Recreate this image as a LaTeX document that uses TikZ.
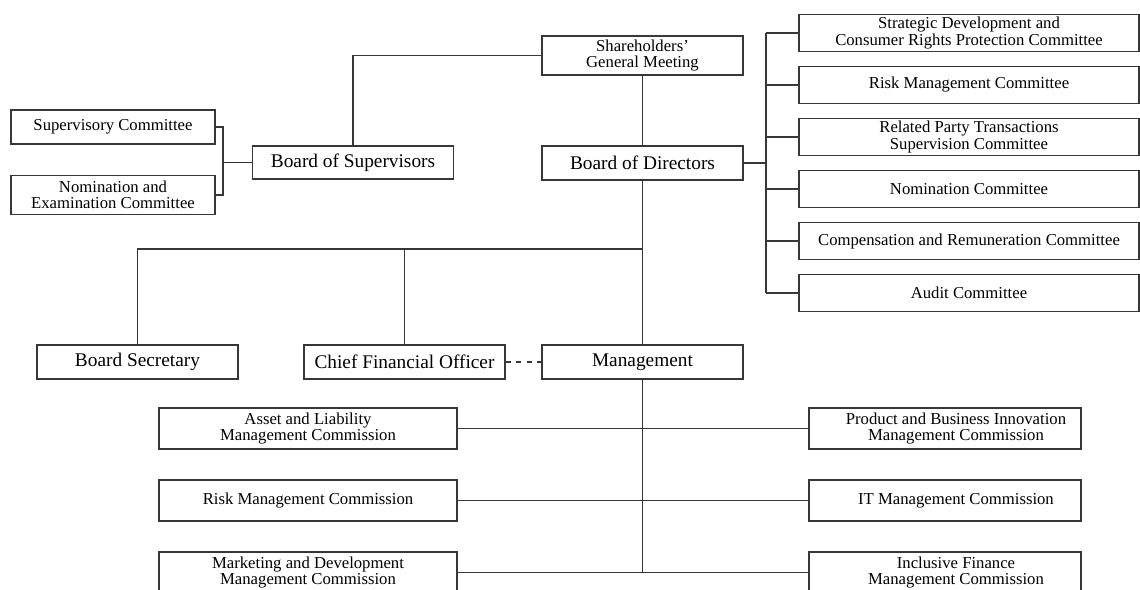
\documentclass[tikz,border=0pt]{standalone}
\usepackage{fontspec}
\setmainfont{Liberation Serif}
\usepackage{tikz}
\usetikzlibrary{positioning, calc}
\definecolor{linegray}{RGB}{55,55,55}

\tikzset{
  box/.style={draw=linegray, line width=0.7pt, inner sep=0pt, align=center, minimum width=#1*0.02cm,
    font=\fontsize{9.5}{9.3}\selectfont},
  box/.default=201,
  bigbox/.style={box=201, font=\fontsize{11}{12}\selectfont},
  link/.style={draw=linegray, line width=0.6pt}
}

\begin{document}
\begin{tikzpicture}[x=0.02cm, y=-0.02cm]
    \useasboundingbox (0,0) rectangle (1140,590);

    \node[box, minimum height=39*0.02cm] (sgm) at (642.5,55.5) {Shareholders'\\General Meeting};
    \node[bigbox, minimum height=34*0.02cm] (bod) at (642.5,163) {Board of Directors};
    \node[bigbox, minimum height=33*0.02cm] (bos) at (353,162.5) {Board of Supervisors};

    \node[box=204, minimum height=34*0.02cm] (supc) at (113,127) {Supervisory Committee};
    \node[box=204, minimum height=39*0.02cm] (nomexam) at (113,195) {Nomination and\\Examination Committee};

    \node[box=340, minimum height=37.5*0.02cm] (rc1) at (969,33) {Strategic Development and\\Consumer Rights Protection Committee};
    \node[box=340, minimum height=37.5*0.02cm] (rc2) at (969,85) {Risk Management Committee};
    \node[box=340, minimum height=37.5*0.02cm] (rc3) at (969,137) {Related Party Transactions\\Supervision Committee};
    \node[box=340, minimum height=37.5*0.02cm] (rc4) at (969,189) {Nomination Committee};
    \node[box=340, minimum height=37.5*0.02cm] (rc5) at (969,241) {Compensation and Remuneration Committee};
    \node[box=340, minimum height=37.5*0.02cm] (rc6) at (969,293) {Audit Committee};

    \node[bigbox, minimum height=34*0.02cm] (bsec) at (137.5,362) {Board Secretary};
    \node[bigbox, minimum height=34*0.02cm] (cfo) at (404.5,362) {Chief Financial Officer};
    \node[bigbox, minimum height=34*0.02cm] (mgmt) at (642.5,362) {Management};

    \node[box=298, minimum height=41*0.02cm] (lc1) at (308,428.5) {Asset and Liability\\Management Commission};
    \node[box=298, minimum height=41*0.02cm] (lc2) at (308,500.5) {Risk Management Commission};
    \node[box=298, minimum height=41*0.02cm] (lc3) at (308,572.5) {Marketing and Development\\Management Commission};
    \node[box=272, minimum height=41*0.02cm] (rcm1) at (945,428.5) {\hspace*{0.44cm}Product and Business Innovation\\\hspace*{0.44cm}Management Commission};
    \node[box=272, minimum height=41*0.02cm] (rcm2) at (945,500.5) {\hspace*{0.44cm}IT Management Commission};
    \node[box=272, minimum height=41*0.02cm] (rcm3) at (945,572.5) {\hspace*{0.44cm}Inclusive Finance\\\hspace*{0.44cm}Management Commission};

    \coordinate (rjoin) at (766,163);
    \coordinate (ljoin) at (223,162.5);
    \coordinate (bus) at (642.5,249);

    \draw[link] (sgm.west) -| (bos.north);
    \draw[link] (sgm) -- (bod);
    \draw[link] (bod.east) -- (rjoin);
    \draw[link] (rjoin |- rc1.west) -- (rjoin |- rc6.west);
    \foreach \i in {1,...,6}
        \draw[link] (rjoin |- rc\i.west) -- (rc\i.west);

    \draw[link] (supc.east) -| (ljoin) |- (nomexam.east);
    \draw[link] (ljoin) -- (bos.west);

    \draw[link] (bod) -- (mgmt);
    \draw[link] (bsec.north) |- (bus);
    \draw[link] (cfo.north) -- (cfo.north |- bus);
    \draw[link, dashed] (cfo) -- (mgmt);

    \draw[link] (mgmt.south) -- (mgmt.south |- lc3.east);
    \foreach \i in {1,2,3}
        \draw[link] (lc\i.east) -- (rcm\i.west);
\end{tikzpicture}
\end{document}
